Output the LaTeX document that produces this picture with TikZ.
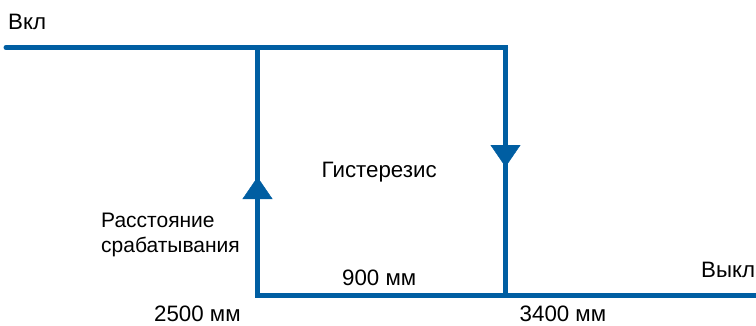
\documentclass[tikz,border=0pt]{standalone}
\usepackage{fontspec}
\setmainfont{Liberation Sans}
\usetikzlibrary{arrows.meta,decorations.markings}
\definecolor{lineblue}{RGB}{0,94,162}
\begin{document}
\begin{tikzpicture}[x=1pt,y=-1pt,
  wire/.style={draw=lineblue, line width=5pt, line join=miter},
  lbl/.style={font=\fontsize{22.3}{24.5}\selectfont, text=black, inner sep=0pt, anchor=base west},
  tipmark/.style={postaction={decorate}, decoration={markings, mark=at position #1 with {\arrow{Triangle[width=30pt,length=22pt]}}}}]
\useasboundingbox (0,0) rectangle (756,325);
\coordinate (tl) at (6,47.5);
\coordinate (a) at (257.5,47.5);
\coordinate (b) at (505.5,47.5);
\coordinate (c) at (257.5,295.5);
\coordinate (d) at (505.5,295.5);
\coordinate (br) at (760,295.5);
\draw[wire, line cap=round] (tl) -- (b);
\draw[wire] (tl) -- (b) -- (d);
\draw[wire] (a) -- (c) -- (br);
\path[tipmark=118.5pt, draw=lineblue, fill=lineblue] (c) -- (a);
\path[tipmark=119.5pt, draw=lineblue, fill=lineblue] (b) -- (d);
\node[lbl] (von) at (8,29) {Вкл};
\node[lbl] (voff) at (701,277) {Выкл};
\node[lbl] (hyst) at (321.5,177) {Гистерезис};
\node[lbl, align=left, font=\fontsize{21}{25}\selectfont] (dist) at (101,252) {Расстояние\\срабатывания};
\node[lbl] (d900) at (342,285) {900 мм};
\node[lbl] (d2500) at (154,321.5) {2500 мм};
\node[lbl] (d3400) at (519.5,321.5) {3400 мм};
\end{tikzpicture}
\end{document}
